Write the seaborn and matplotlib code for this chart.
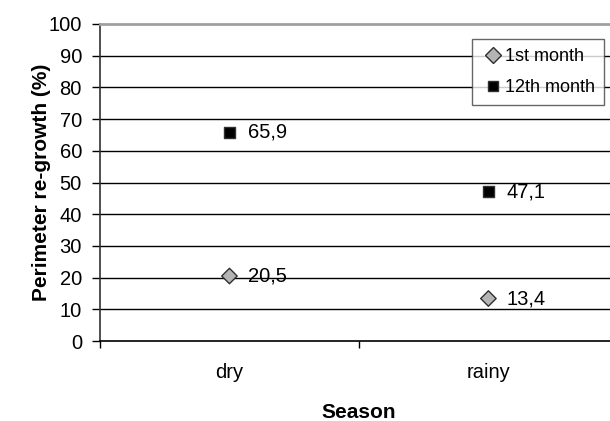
import matplotlib
matplotlib.use("Agg")
import matplotlib.pyplot as plt
import seaborn as sns
import pandas as pd

seasons = ["dry", "rainy"]
first_month = [20.5, 13.4]
twelfth_month = [65.9, 47.1]
series_names = ["1st month", "12th month"]
y_ticks = [0, 10, 20, 30, 40, 50, 60, 70, 80, 90, 100]

sns.set_style("white")
plt.rcParams["font.family"] = ["Liberation Sans", "DejaVu Sans"]
plt.rcParams.update({
    "text.color": "black",
    "axes.labelcolor": "black",
    "xtick.color": "black",
    "ytick.color": "black",
})

df = pd.DataFrame({
    "Season": seasons * 2,
    "value": first_month + twelfth_month,
    "series": [series_names[0]] * len(seasons) + [series_names[1]] * len(seasons),
})
df["pos"] = df["Season"].map({s: i for i, s in enumerate(seasons)})

fig = plt.figure(figsize=(6.1, 4.21), dpi=100)
ax = fig.add_axes([0.1639, 0.190, 0.849, 0.753])

# horizontal gridlines
for v in y_ticks[1:-1]:
    ax.axhline(v, color="black", lw=1.0, zorder=1)

sns.scatterplot(
    data=df, x="pos", y="value", hue="series", style="series",
    palette={series_names[0]: "#b4b4b4", series_names[1]: "black"},
    markers={series_names[0]: "D", series_names[1]: "s"},
    s=62, edgecolor="#303030", linewidth=1.0, ax=ax, zorder=3,
)

# value labels next to each point
for _, r in df.iterrows():
    ax.annotate(f"{r['value']:.1f}".replace(".", ","), (r["pos"], r["value"]),
                xytext=(13, 0), textcoords="offset points",
                ha="left", va="center", fontsize=14.5, color="black")

ax.set_xlim(-0.5, 1.5)
ax.set_ylim(0, 100)
ax.set_yticks(y_ticks)
ax.set_yticklabels([str(t) for t in y_ticks], fontsize=14.5)
ax.set_xticks([-0.5, 0.5, 1.5])
ax.set_xticklabels([])
ax.set_xticks([0, 1], minor=True)
ax.set_xticklabels(seasons, minor=True, fontsize=14.5)
ax.tick_params(axis="x", which="minor", bottom=True, length=0, pad=16)
ax.tick_params(axis="x", which="major", bottom=True, length=5, width=1,
               color="black", direction="out")
ax.tick_params(axis="y", left=True, length=6, width=1, color="black",
               direction="out", pad=7)

ax.spines["left"].set_color("#303030")
ax.spines["left"].set_linewidth(1.2)
ax.spines["bottom"].set_color("black")
ax.spines["bottom"].set_linewidth(1.2)
ax.spines["top"].set_color("#a0a0a0")
ax.spines["top"].set_linewidth(2)
ax.spines["right"].set_visible(False)

ax.set_xlabel("Season", fontsize=15, fontweight="bold", labelpad=15)
ax.set_ylabel("Perimeter re-growth (%)", fontsize=15, fontweight="bold", labelpad=-2)

leg = ax.legend(loc="upper right", bbox_to_anchor=(0.973, 0.953), frameon=True,
                fancybox=False, edgecolor="#404040", fontsize=13,
                handletextpad=0.0, borderpad=0.5, labelspacing=0.8,
                handlelength=1.3, borderaxespad=0)
leg.get_frame().set_linewidth(1.0)
leg.set_zorder(5)

fig.savefig("out.png", dpi=100, facecolor="white")
